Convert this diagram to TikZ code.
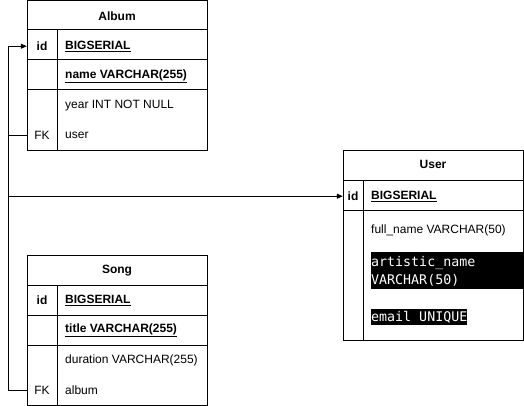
\documentclass[tikz,border=0pt]{standalone}
\usepackage{fontspec}
\setmainfont{Liberation Sans}
\newfontfamily\codefont{DejaVu Sans Mono}
\usetikzlibrary{arrows.meta}
\tikzset{
  tbl/.style={draw, line width=1pt, inner sep=0pt, anchor=north west},
  sep/.style={line width=1pt},
  keycell/.style={inner sep=0pt, minimum width=30pt, yshift=-1.2pt, font=\fontsize{12}{14}\selectfont\bfseries},
  fkcell/.style={inner sep=0pt, minimum width=30pt, yshift=-1.2pt, font=\fontsize{12}{14}\selectfont},
  hdr/.style={inner sep=0pt, yshift=-0.8pt, font=\fontsize{12}{14}\selectfont\bfseries},
  fld/.style={inner sep=0pt, anchor=west, yshift=-1.2pt, font=\fontsize{12}{14}\selectfont},
  pk/.style={inner sep=0pt, anchor=west, yshift=-1.2pt, font=\fontsize{12}{14}\selectfont\bfseries},
  hl/.style={fill=black, text=white, inner sep=0pt, anchor=north west, align=left, font=\fontsize{13.3}{18.5}\codefont},
  link/.style={line width=1pt, -{Triangle[length=6pt,width=5pt]}},
}
\begin{document}
\begin{tikzpicture}[x=1pt,y=-1pt]
\useasboundingbox (0,0) rectangle (524,406);
\fill[white] (0,0) rectangle (524,406);

% Album
\node[tbl, minimum width=180pt, minimum height=150pt] (album) at (27,0.5) {};
\draw[sep] (27,30) -- (207,30) (27,60) -- (207,60) (27,90) -- (207,90) (57,30) -- (57,150.5);
\node[hdr] (albumT) at (117,15) {Album};
\node[keycell] (albumId) at (42,45) {id};
\node[pk] (albumIdT) at (65,45) {\underline{BIGSERIAL}};
\node[pk] (albumName) at (65,75) {\underline{name VARCHAR(255)}};
\node[fld] (albumYear) at (65,104) {year INT NOT NULL};
\node[fkcell] (albumFK) at (42,134) {FK};
\node[fld] (albumUser) at (65,134) {user};

% Song
\node[tbl, minimum width=180pt, minimum height=150pt] (song) at (27,255) {};
\draw[sep] (27,285) -- (207,285) (27,315) -- (207,315) (27,345) -- (207,345) (57,285) -- (57,405);
\node[hdr] (songT) at (117,270) {Song};
\node[keycell] (songId) at (42,299) {id};
\node[pk] (songIdT) at (65,299) {\underline{BIGSERIAL}};
\node[pk] (songTitle) at (65,329) {\underline{title VARCHAR(255)}};
\node[fld] (songDur) at (65,359) {duration VARCHAR(255)};
\node[fkcell] (songFK) at (42,389) {FK};
\node[fld] (songAlbum) at (65,389) {album};

% User
\node[tbl, minimum width=180pt, minimum height=190pt] (user) at (343,150) {};
\draw[sep] (343,180) -- (523,180) (343,210) -- (523,210) (363,180) -- (363,340);
\node[hdr] (userT) at (433,164) {User};
\node[keycell, minimum width=20pt] (userId) at (353,195) {id};
\node[pk] (userIdT) at (371,195) {\underline{BIGSERIAL}};
\node[fld] (userFull) at (371,229) {full\_name VARCHAR(50)};
\fill[black] (371,252) rectangle (522.5,289);
\node[hl, fill=none] (userArt) at (371,256) {artistic\_name\\VARCHAR(50)};
\node[hl, minimum height=16pt] (userEmail) at (371,309) {email UNIQUE};

% Connectors
\coordinate (bend) at (8,0);
\draw[link] (albumFK.west) -- (bend |- albumFK.west) |- (userId.west);
\draw[link] (songFK.west) -- (bend |- songFK.west) |- (albumId.west);
\end{tikzpicture}
\end{document}
